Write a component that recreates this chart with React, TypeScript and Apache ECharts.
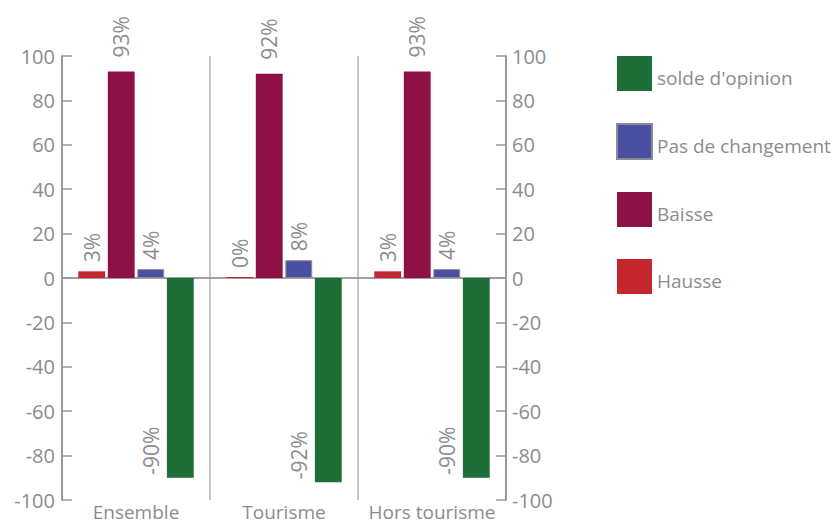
import React, { useEffect, useRef } from "react";
import * as echarts from "echarts";

const categories = ["Ensemble", "Tourisme", "Hors tourisme"];
const hausse = [3, 0, 3];
const baisse = [93, 92, 93];
const pasDeChangement = [4, 8, 4];
const soldeOpinion = [-90, -92, -90];
const seriesNames = ["Hausse", "Baisse", "Pas de changement", "solde d'opinion"];

const FONT = "'Open Sans', 'Noto Sans', sans-serif";
const GREY = "#8c8c8c";

export default function App() {
  const ref = useRef<HTMLDivElement>(null);
  useEffect(() => {
    if (!ref.current) return;
    const chart = echarts.init(ref.current, null, { renderer: "svg" });
    const posLabel = {
      show: true,
      position: "top",
      rotate: 90,
      align: "left",
      verticalAlign: "middle",
      distance: 9,
      formatter: "{c}%",
      color: GREY,
      fontSize: 21,
      fontFamily: FONT,
    };
    chart.setOption({
      animation: false,
      textStyle: { fontFamily: FONT },
      legend: {
        data: [...seriesNames].reverse(),
        orient: "vertical",
        left: 616,
        top: 56,
        padding: 0,
        itemWidth: 35,
        itemHeight: 35,
        itemGap: 32,
        icon: "rect",
        formatter: "{t|{name}}",
        textStyle: {
          color: GREY,
          fontSize: 19,
          fontFamily: FONT,
          rich: { t: { color: GREY, fontSize: 19, fontFamily: FONT, padding: [8, 0, 0, 0] } },
        },
      },
      grid: { left: 62, right: 326, top: 56, bottom: 25, containLabel: false },
      xAxis: [
        {
          type: "category",
          data: categories,
          position: "bottom",
          axisLine: { show: false },
          axisTick: { show: false },
          splitLine: { show: true, interval: 0, lineStyle: { color: "#b4b4b4", width: 1.5 } },
          axisLabel: { color: GREY, fontSize: 19, fontFamily: FONT, margin: 2, interval: 0 },
        },
        {
          type: "category",
          data: categories,
          position: "top",
          axisLine: { show: true, onZero: true, lineStyle: { color: "#a0a0a0", width: 2 } },
          axisTick: { show: false },
          axisLabel: { show: false },
          splitLine: { show: false },
        },
      ],
      yAxis: [
        {
          type: "value",
          min: -100,
          max: 100,
          interval: 20,
          position: "left",
          axisLine: { show: true, lineStyle: { color: "#999", width: 2 } },
          axisTick: { show: true, inside: true, length: 10, lineStyle: { color: "#999", width: 1.5 } },
          axisLabel: { color: GREY, fontSize: 20, fontFamily: FONT, margin: 7 },
          splitLine: { show: false },
        },
        {
          type: "value",
          min: -100,
          max: 100,
          interval: 20,
          position: "right",
          axisLine: { show: true, lineStyle: { color: "#999", width: 2 } },
          axisTick: { show: true, inside: true, length: 10, lineStyle: { color: "#999", width: 1.5 } },
          axisLabel: { color: GREY, fontSize: 20, fontFamily: FONT, margin: 6 },
          splitLine: { show: false },
        },
      ],
      series: [
        {
          name: seriesNames[0],
          type: "bar",
          data: hausse,
          itemStyle: { color: "#C1272D" },
          barGap: "10%",
          barCategoryGap: "22%",
          barMinHeight: 1,
          label: posLabel,
        },
        {
          name: seriesNames[1],
          type: "bar",
          data: baisse,
          itemStyle: { color: "#8E1146" },
          barGap: "10%",
          barCategoryGap: "22%",
          label: { ...posLabel, distance: 14 },
        },
        {
          name: seriesNames[2],
          type: "bar",
          data: pasDeChangement,
          itemStyle: { color: "#4B4FA0", borderColor: "#8a8a9a", borderWidth: 1 },
          barGap: "10%",
          barCategoryGap: "22%",
          label: posLabel,
        },
        {
          name: seriesNames[3],
          type: "bar",
          data: soldeOpinion,
          itemStyle: { color: "#1D6E37" },
          barGap: "10%",
          barCategoryGap: "22%",
          label: {
            ...posLabel,
            position: "insideBottom",
            distance: 3,
            offset: [0, -29],
          },
        },
      ],
    });
    return () => chart.dispose();
  }, []);
  return (
    <div
      ref={ref}
      style={{ position: "absolute", left: 0, top: 0, width: 832, height: 525 }}
    />
  );
}
